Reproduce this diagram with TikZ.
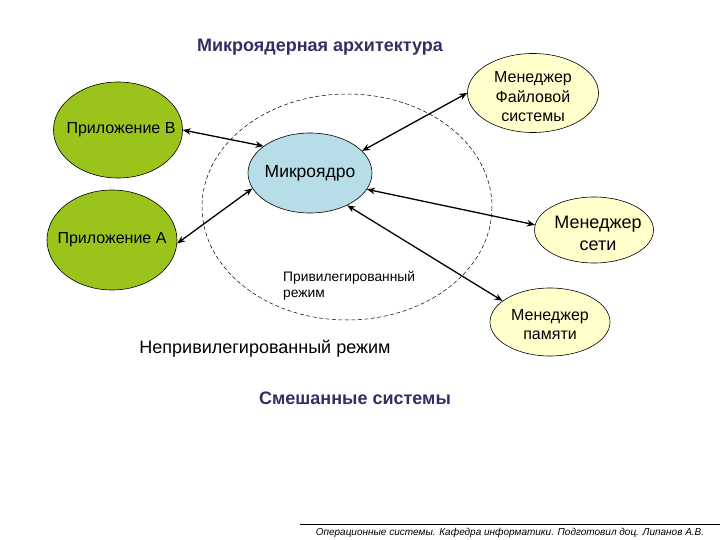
\documentclass[tikz,border=0pt]{standalone}
\usepackage{fontspec}
\setmainfont{Liberation Sans}
\usetikzlibrary{shapes.geometric,arrows.meta}
\definecolor{appgreen}{RGB}{154,196,28}
\definecolor{kernblue}{RGB}{183,222,232}
\definecolor{mgryellow}{RGB}{255,255,204}
\definecolor{navy}{RGB}{48,48,100}
\tikzset{
  oval/.style={ellipse, draw=black, line width=0.6pt, inner sep=0pt},
  app/.style={oval, fill=appgreen},
  kern/.style={oval, fill=kernblue},
  mgr/.style={oval, fill=mgryellow},
  txt/.style={align=center, inner sep=0pt},
  link/.style={{Stealth[length=8pt,width=6.5pt]}-{Stealth[length=8pt,width=6.5pt]}, line width=1.3pt},
  heading/.style={font=\fontsize{18}{21}\selectfont\bfseries, text=navy}
}
\begin{document}
\begin{tikzpicture}[x=1pt,y=-1pt]
\useasboundingbox (0,0) rectangle (720,540);
\fill[white] (0,0) rectangle (720,540);
% dashed region
\draw[line width=0.5pt, dash pattern=on 4pt off 2.5pt] (347,207) ellipse [x radius=145, y radius=113];
\node[heading] (title) at (320,47) {Микроядерная архитектура};
\node[app, minimum width=129pt, minimum height=96pt,
  label={[txt, font=\fontsize{16}{18}\selectfont, xshift=3pt]center:Приложение B}] (B) at (118,130) {};
\node[app, minimum width=130pt, minimum height=100pt,
  label={[txt, font=\fontsize{16}{18}\selectfont]center:Приложение A}] (A) at (112,240) {};
\node[kern, minimum width=124pt, minimum height=80pt,
  label={[txt, font=\fontsize{17.5}{20}\selectfont]center:Микроядро}] (K) at (310,173) {};
\node[mgr, minimum width=131pt, minimum height=79pt,
  label={[txt, font=\fontsize{16}{19.5}\selectfont, yshift=-4pt]center:Менеджер\\Файловой\\системы}] (F) at (533,93) {};
\node[mgr, minimum width=119pt, minimum height=66pt,
  label={[txt, font=\fontsize{18}{22}\selectfont, xshift=4pt, yshift=-3pt]center:Менеджер\\сети}] (N) at (594,230) {};
\node[mgr, minimum width=120pt, minimum height=68pt,
  label={[txt, font=\fontsize{16}{19}\selectfont, yshift=-3pt]center:Менеджер\\памяти}] (M) at (550,322) {};
\node[align=left, anchor=north west, inner sep=0pt, font=\fontsize{13.8}{16}\selectfont] (priv) at (283,271) {Привилегированный\\режим};
\node[font=\fontsize{18}{21}\selectfont] (unpriv) at (265,349) {Непривилегированный режим};
\node[heading] (mixed) at (355,398) {Смешанные системы};
\coordinate (fl) at (300,524);
\coordinate (fr) at (720,524);
\draw[line width=0.6pt] (fl) -- (fr);
\node[font=\fontsize{10}{12}\selectfont\itshape] (foot) at (510,533) {Операционные системы. Кафедра информатики. Подготовил доц. Липанов А.В.};
% links
\draw[link] (B.east) -- (K.150);
\draw[link] (A.-3) -- (K.195);
\draw[link] (F.west) -- (K.23);
\draw[link] (K.344) -- (N.175);
\draw[link] (K.319) -- (M.156);
\end{tikzpicture}
\end{document}
